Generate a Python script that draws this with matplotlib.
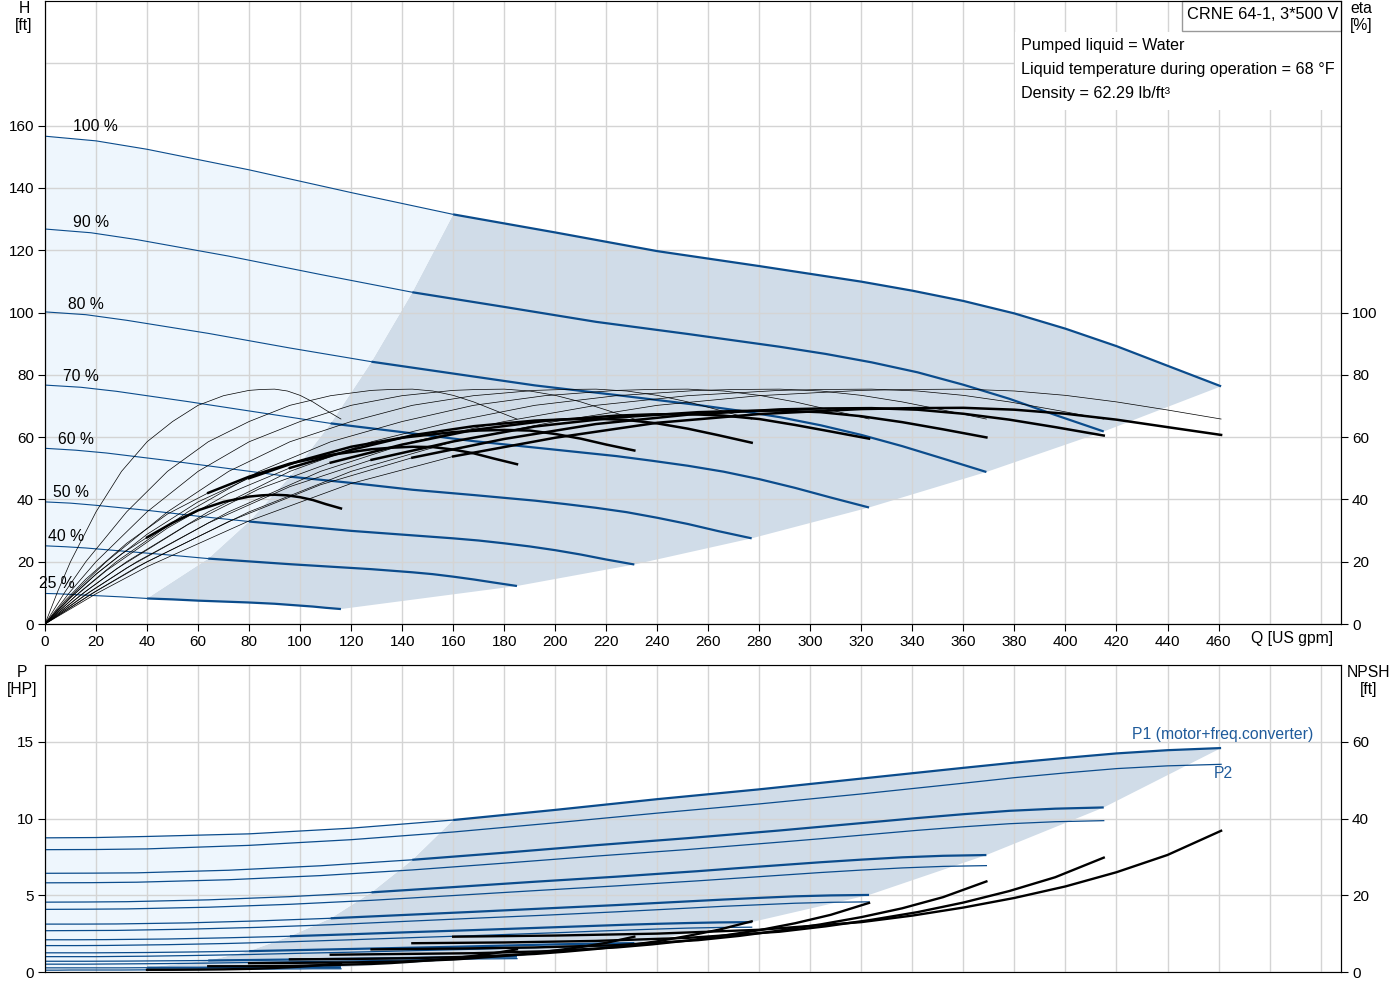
import matplotlib.pyplot as plt
from matplotlib.patches import Polygon, Rectangle

plt.rcParams['font.family'] = ['Liberation Sans', 'DejaVu Sans']

# speed curves, 100 % down to 25 %
speed_labels = ['100 %', '90 %', '80 %', '70 %', '60 %', '50 %', '40 %', '25 %']

# flow [US gpm]; index 5 is the minimum-flow point, last is max flow
q100 = [0, 20, 40, 80, 120, 160, 200, 240, 280, 320, 340, 360, 380, 400, 420, 440, 461]
q90 = [0, 18, 36, 72, 108, 144, 180, 216, 252, 288, 306, 324, 342, 360, 378, 396, 415]
q80 = [0, 16, 32, 64, 96, 128, 160, 192, 224, 256, 272, 288, 304, 320, 336, 352, 369]
q70 = [0, 14, 28, 56, 84, 112, 140, 168, 196, 224, 238, 252, 266, 280, 294, 308, 323]
q60 = [0, 12, 24, 48, 72, 96, 120, 144, 168, 192, 204, 216, 228, 240, 252, 264, 277]
q50 = [0, 10, 20, 40, 60, 80, 100, 120, 140, 160, 170, 180, 190, 200, 210, 220, 231]
q40 = [0, 8, 16, 32, 48, 64, 80, 96, 112, 128, 136, 144, 152, 160, 168, 176, 185]
q25 = [0, 5, 10, 20, 30, 40, 50, 60, 70, 80, 85, 90, 95, 100, 105, 110, 116]

# head [ft]
H100 = [156.6, 155.1, 152.4, 145.8, 138.5, 131.5, 125.7, 119.7, 114.9, 109.9, 107.0, 103.7, 99.7, 94.8, 89.2, 82.9, 76.3]
H90 = [126.8, 125.6, 123.4, 118.1, 112.2, 106.5, 101.8, 97.0, 93.1, 89.0, 86.7, 84.0, 80.8, 76.8, 72.3, 67.1, 61.8]
H80 = [100.2, 99.3, 97.5, 93.3, 88.6, 84.2, 80.4, 76.6, 73.5, 70.3, 68.5, 66.4, 63.8, 60.7, 57.1, 53.1, 48.8]
H70 = [76.7, 76.0, 74.7, 71.4, 67.9, 64.4, 61.6, 58.7, 56.3, 53.9, 52.4, 50.8, 48.9, 46.5, 43.7, 40.6, 37.4]
H60 = [56.4, 55.8, 54.9, 52.5, 49.9, 47.3, 45.3, 43.1, 41.4, 39.6, 38.5, 37.3, 35.9, 34.1, 32.1, 29.8, 27.5]
H50 = [39.2, 38.8, 38.1, 36.5, 34.6, 32.9, 31.4, 29.9, 28.7, 27.5, 26.8, 25.9, 24.9, 23.7, 22.3, 20.7, 19.1]
H40 = [25.1, 24.8, 24.4, 23.3, 22.2, 21.0, 20.1, 19.2, 18.4, 17.6, 17.1, 16.6, 16.0, 15.2, 14.3, 13.3, 12.2]
H25 = [9.8, 9.7, 9.5, 9.1, 8.7, 8.2, 7.9, 7.5, 7.2, 6.9, 6.7, 6.5, 6.2, 5.9, 5.6, 5.2, 4.8]

# pump efficiency [%] (same at every speed along its own flow points)
eta_pump = [0, 10.5, 20, 36, 49, 58.5, 65, 70.2, 73.3, 75, 75.3, 75.4, 74.8, 73.4, 71.3, 68.7, 65.8]

# total efficiency [%]
e100 = [0, 9.7, 18.4, 33.1, 45.1, 53.8, 59.8, 64.6, 67.4, 69.0, 69.3, 69.4, 68.8, 67.5, 65.6, 63.2, 60.7]
e90 = [0, 9.6, 18.3, 32.9, 44.7, 53.4, 59.4, 64.2, 67.2, 68.9, 69.2, 69.3, 68.8, 67.5, 65.6, 63.2, 60.5]
e80 = [0, 9.5, 18.0, 32.4, 44.1, 52.7, 58.6, 63.4, 66.3, 68.0, 68.4, 68.5, 68.0, 66.7, 64.8, 62.5, 59.9]
e70 = [0, 9.3, 17.7, 31.9, 43.4, 51.8, 57.6, 62.3, 65.2, 66.9, 67.3, 67.4, 66.9, 65.8, 63.9, 61.8, 59.5]
e60 = [0, 9.0, 17.1, 30.8, 41.9, 50.1, 55.9, 60.6, 63.5, 65.3, 65.7, 65.9, 65.5, 64.4, 62.7, 60.6, 58.2]
e50 = [0, 8.4, 16.0, 28.8, 39.2, 46.8, 52.4, 56.9, 59.8, 61.6, 62.1, 62.3, 62.1, 61.0, 59.5, 57.6, 55.7]
e40 = [0, 7.6, 14.4, 25.9, 35.3, 42.1, 47.3, 51.5, 54.3, 56.1, 56.6, 56.9, 56.8, 56.0, 54.8, 53.1, 51.3]
e25 = [0, 4.5, 8.5, 16.0, 22.5, 27.8, 32.5, 36.5, 39.2, 40.9, 41.3, 41.5, 41.3, 40.7, 39.8, 38.5, 37.1]

# P1 (motor + freq. converter) [HP]
P1_100 = [8.74, 8.76, 8.83, 9.0, 9.37, 9.9, 10.56, 11.26, 11.9, 12.6, 12.95, 13.3, 13.64, 13.95, 14.24, 14.45, 14.59]
P1_90 = [6.43, 6.44, 6.46, 6.63, 6.92, 7.31, 7.77, 8.26, 8.72, 9.22, 9.49, 9.76, 10.03, 10.28, 10.50, 10.64, 10.72]
P1_80 = [4.55, 4.56, 4.58, 4.70, 4.91, 5.19, 5.53, 5.88, 6.21, 6.57, 6.77, 6.96, 7.15, 7.32, 7.47, 7.57, 7.62]
P1_70 = [3.12, 3.12, 3.13, 3.20, 3.33, 3.50, 3.71, 3.92, 4.14, 4.36, 4.48, 4.60, 4.72, 4.83, 4.93, 4.99, 5.02]
P1_60 = [2.10, 2.10, 2.11, 2.15, 2.23, 2.33, 2.46, 2.60, 2.73, 2.87, 2.94, 3.01, 3.08, 3.14, 3.19, 3.23, 3.25]
P1_50 = [1.25, 1.25, 1.25, 1.27, 1.31, 1.36, 1.43, 1.50, 1.57, 1.64, 1.68, 1.72, 1.76, 1.80, 1.83, 1.86, 1.88]
P1_40 = [0.70, 0.70, 0.70, 0.71, 0.73, 0.75, 0.78, 0.81, 0.85, 0.88, 0.90, 0.92, 0.94, 0.96, 0.98, 0.99, 1.00]
P1_25 = [0.27, 0.27, 0.27, 0.27, 0.27, 0.28, 0.28, 0.28, 0.29, 0.29, 0.29, 0.30, 0.30, 0.30, 0.31, 0.31, 0.31]

# P2 (shaft) [HP]
P2_100 = [7.97, 7.98, 8.02, 8.25, 8.62, 9.12, 9.72, 10.35, 10.95, 11.6, 11.95, 12.3, 12.66, 12.97, 13.25, 13.43, 13.53]
P2_90 = [5.81, 5.82, 5.85, 6.01, 6.28, 6.65, 7.09, 7.55, 7.98, 8.46, 8.71, 8.97, 9.23, 9.46, 9.66, 9.79, 9.86]
P2_80 = [4.08, 4.09, 4.11, 4.22, 4.41, 4.67, 4.98, 5.30, 5.61, 5.94, 6.12, 6.30, 6.48, 6.64, 6.78, 6.88, 6.93]
P2_70 = [2.69, 2.70, 2.71, 2.79, 2.91, 3.08, 3.29, 3.50, 3.70, 3.92, 4.04, 4.16, 4.28, 4.38, 4.48, 4.54, 4.57]
P2_60 = [1.72, 1.72, 1.73, 1.78, 1.86, 1.97, 2.10, 2.24, 2.37, 2.51, 2.58, 2.66, 2.73, 2.80, 2.86, 2.90, 2.92]
P2_50 = [1.00, 1.00, 1.00, 1.03, 1.08, 1.14, 1.22, 1.29, 1.37, 1.45, 1.49, 1.54, 1.58, 1.62, 1.66, 1.68, 1.69]
P2_40 = [0.51, 0.51, 0.51, 0.53, 0.55, 0.58, 0.62, 0.66, 0.70, 0.74, 0.76, 0.79, 0.81, 0.83, 0.85, 0.86, 0.87]
P2_25 = [0.12, 0.12, 0.13, 0.13, 0.13, 0.14, 0.15, 0.16, 0.17, 0.18, 0.19, 0.19, 0.20, 0.20, 0.21, 0.21, 0.21]

# NPSH [ft], from minimum flow to max flow
N100 = [9.2, 9.5, 10.0, 11.0, 13.0, 14.7, 16.8, 19.3, 22.3, 26.0, 30.5, 36.8]
N90 = [7.5, 7.7, 8.1, 8.9, 10.5, 11.9, 13.6, 15.6, 18.1, 21.1, 24.7, 29.8]
N80 = [5.9, 6.1, 6.4, 7.0, 8.3, 9.4, 10.8, 12.4, 14.3, 16.6, 19.5, 23.6]
N70 = [4.5, 4.7, 4.9, 5.4, 6.4, 7.2, 8.2, 9.5, 10.9, 12.7, 14.9, 18.0]
N60 = [3.3, 3.4, 3.6, 4.0, 4.7, 5.3, 6.0, 6.9, 8.0, 9.4, 11.0, 13.2]
N50 = [2.3, 2.4, 2.5, 2.75, 3.25, 3.7, 4.2, 4.8, 5.6, 6.5, 7.6, 9.2]
N40 = [1.5, 1.5, 1.6, 1.8, 2.1, 2.35, 2.7, 3.1, 3.6, 4.2, 4.9, 5.9]
N25 = [0.58, 0.59, 0.63, 0.69, 0.81, 0.92, 1.05, 1.21, 1.39, 1.63, 1.91, 2.3]

flows = [q100, q90, q80, q70, q60, q50, q40, q25]
heads = [H100, H90, H80, H70, H60, H50, H40, H25]
etas = [e100, e90, e80, e70, e60, e50, e40, e25]
p1s = [P1_100, P1_90, P1_80, P1_70, P1_60, P1_50, P1_40, P1_25]
p2s = [P2_100, P2_90, P2_80, P2_70, P2_60, P2_50, P2_40, P2_25]
npshs = [N100, N90, N80, N70, N60, N50, N40, N25]

MIN = 5
BLUE = '#0b4c8c'
LABEL_BLUE = '#1f5b9b'
GRAY_FILL = '#d0dce8'
LIGHT_FILL = '#eef6fd'
GRID = '#d4d4d4'
FS = 11

fig = plt.figure(figsize=(14, 10), dpi=100)
ax_h = fig.add_axes([45 / 1400, 0.376, 1296 / 1400, 0.623])
ax_e = ax_h.twinx()
ax_p = fig.add_axes([45 / 1400, 0.028, 1296 / 1400, 0.307])
ax_n = ax_p.twinx()


def area_polygons(ys):
    # operating range (gray) and the range below min flow (light)
    top = ys[0]
    bot = ys[-1]
    gray = list(zip(flows[0][MIN:], top[MIN:]))
    gray += [(q[-1], y[-1]) for q, y in zip(flows[1:], ys[1:])]
    gray += list(zip(flows[-1][MIN:][::-1], bot[MIN:][::-1]))[1:]
    gray += [(q[MIN], y[MIN]) for q, y in zip(flows[::-1], ys[::-1])][1:]
    light = list(zip(flows[0][:MIN + 1], top[:MIN + 1]))
    light += [(q[MIN], y[MIN]) for q, y in zip(flows[1:], ys[1:])]
    light += list(zip(flows[-1][:MIN][::-1], bot[:MIN][::-1]))
    return gray, light


def style(ax, ylim, yticks, yminor):
    ax.set_xlim(0, 508)
    ax.set_ylim(*ylim)
    ax.set_yticks(yticks)
    ax.set_yticks(yminor, minor=True)
    ax.set_xticks(range(0, 461, 20))
    ax.set_xticks([480, 500], minor=True)
    ax.grid(True, which='both', color=GRID, lw=1, zorder=2.5)
    ax.tick_params(which='minor', length=0)
    ax.tick_params(which='major', direction='out', length=5, labelsize=FS, pad=3)
    for s in ['left', 'right']:
        ax.spines[s].set_color('black')
    ax.spines['top'].set_color('#999999')


# ---------------- head / efficiency ----------------
style(ax_h, (0, 200), range(0, 161, 20), [180])
ax_h.spines['bottom'].set_color('black')
gray, light = area_polygons(heads)
ax_h.add_patch(Polygon(gray, closed=True, facecolor=GRAY_FILL, edgecolor='none', zorder=1))
ax_h.add_patch(Polygon(light, closed=True, facecolor=LIGHT_FILL, edgecolor='none', zorder=1))

for q, h in zip(flows, heads):
    ax_h.plot(q[:MIN + 1], h[:MIN + 1], color=BLUE, lw=0.8, zorder=3)
    ax_h.plot(q[MIN:], h[MIN:], color=BLUE, lw=1.6, zorder=3, solid_capstyle='butt')

label_pos = [(11, 159.7), (11, 129), (9, 102.7), (7, 79.4), (5, 59.2), (3, 42.2), (1, 28.2), (-2.5, 13.1)]
for lab, (x, y) in zip(speed_labels, label_pos):
    ax_h.text(x, y, lab, fontsize=11.3, ha='left', va='center', zorder=4, clip_on=False)

ax_h.text(489, -4.6, 'Q [US gpm]', fontsize=11.3, ha='center', va='center', clip_on=False)

ax_e.set_ylim(0, 200)
ax_e.set_yticks(range(0, 101, 20))
ax_e.tick_params(direction='out', length=5, labelsize=FS, pad=3)
for q, e in zip(flows, etas):
    ax_e.plot(q, eta_pump, color='black', lw=0.5)
    ax_e.plot(q[:MIN + 1], e[:MIN + 1], color='black', lw=0.5)
    ax_e.plot(q[MIN:], e[MIN:], color='black', lw=1.8)

# info boxes
ax_h.add_patch(Rectangle((380.4, 165.1), 127.6, 25, facecolor='white', edgecolor='none', zorder=2.6))
ax_h.add_patch(Rectangle((445.5, 190.4), 62.5, 9.6, facecolor='white', edgecolor='#999999',
                         lw=1, zorder=2.7, clip_on=False))
ax_h.text(447.8, 195.7, 'CRNE 64-1, 3*500 V', fontsize=11.8, ha='left', va='center', zorder=4)
info = ['Pumped liquid = Water',
        'Liquid temperature during operation = 68 °F',
        'Density = 62.29 lb/ft³']
for i, line in enumerate(info):
    ax_h.text(382.7, 185.6 - i * 7.7, line, fontsize=11.6, ha='left', va='center', zorder=4)

fig.text(24 / 1400, 1 - 17 / 1000, 'H\n[ft]', fontsize=11.3, ha='center', va='center', linespacing=1.2)
fig.text(1361 / 1400, 1 - 17 / 1000, 'eta\n[%]', fontsize=11.3, ha='center', va='center', linespacing=1.2)

# ---------------- power / NPSH ----------------
style(ax_p, (0, 20), [0, 5, 10, 15], [20])
ax_p.set_xticklabels([])
ax_p.tick_params(axis='x', length=0)
ax_p.spines['bottom'].set_color('#888888')
gray, light = area_polygons(p1s)
ax_p.add_patch(Polygon(gray, closed=True, facecolor=GRAY_FILL, edgecolor='none', zorder=1))
ax_p.add_patch(Polygon(light, closed=True, facecolor=LIGHT_FILL, edgecolor='none', zorder=1))

for q, p1, p2 in zip(flows, p1s, p2s):
    ax_p.plot(q, p2, color=BLUE, lw=0.9, zorder=3)
    ax_p.plot(q[:MIN + 1], p1[:MIN + 1], color=BLUE, lw=0.9, zorder=3)
    ax_p.plot(q[MIN:], p1[MIN:], color=BLUE, lw=1.6, zorder=3, solid_capstyle='butt')

ax_p.text(497, 15.45, 'P1 (motor+freq.converter)', fontsize=11.3, color=LABEL_BLUE, ha='right', va='center')
ax_p.text(462, 12.9, 'P2', fontsize=11.3, color=LABEL_BLUE, ha='center', va='center')

ax_n.set_ylim(0, 80)
ax_n.set_yticks([0, 20, 40, 60])
ax_n.tick_params(direction='out', length=5, labelsize=FS, pad=3)
for q, n in zip(flows, npshs):
    ax_n.plot(q[MIN:], n, color='black', lw=1.7)

fig.text(22 / 1400, 1 - 681 / 1000, 'P\n[HP]', fontsize=11.3, ha='center', va='center', linespacing=1.2)
fig.text(1369 / 1400, 1 - 681 / 1000, 'NPSH\n[ft]', fontsize=11.3, ha='center', va='center', linespacing=1.2)

fig.savefig('out.png', dpi=100)
